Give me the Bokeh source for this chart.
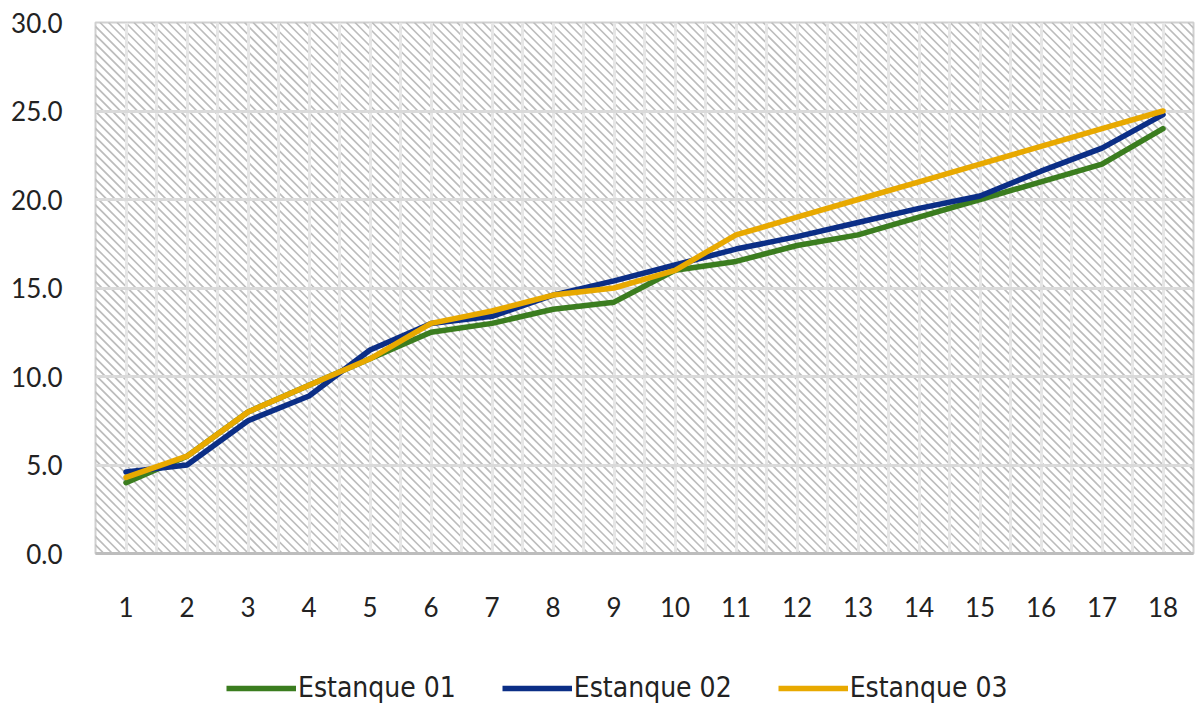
import numpy as np
from bokeh.plotting import figure
from bokeh.layouts import column
from bokeh.models import Range1d, FixedTicker, Legend, LegendItem, CustomJSTickFormatter
from bokeh.embed import file_html
from bokeh.resources import INLINE

days = list(range(1, 19))
tick_labels = [str(d) for d in days]
estanque_01 = [4.0, 5.5, 8.0, 9.5, 11.0, 12.5, 13.0, 13.8, 14.2, 16.0, 16.5, 17.4, 18.0, 19.0, 20.0, 21.0, 22.0, 24.0]
estanque_02 = [4.6, 5.0, 7.5, 8.9, 11.5, 13.0, 13.4, 14.6, 15.4, 16.3, 17.2, 17.9, 18.7, 19.5, 20.2, 21.6, 22.9, 24.8]
estanque_03 = [4.3, 5.5, 8.0, 9.5, 11.0, 13.0, 13.7, 14.6, 15.0, 16.0, 18.0, 19.0, 20.0, 21.0, 22.0, 23.0, 24.0, 25.0]
series_names = ["Estanque 01", "Estanque 02", "Estanque 03"]
colors = ["#3b7d1f", "#0b2e86", "#e8a900"]
y_ticks = [0, 5, 10, 15, 20, 25, 30]

FW, FH = 1098, 531
X0, X1, Y0, Y1 = 0.5, 18.5, 0, 30

p = figure(frame_width=FW, frame_height=FH, output_backend="svg", toolbar_location=None,
           x_range=Range1d(X0, X1), y_range=Range1d(Y0, Y1),
           min_border_left=95, min_border_right=2, min_border_top=22, min_border_bottom=90)
p.background_fill_color = "white"
p.border_fill_color = "white"
p.outline_line_color = "#d0d0d0"
p.outline_line_width = 2

# diagonal hatch of the plot area (decoration, 45 degrees on screen)
ux = (X1 - X0) / FW   # data units per pixel
uy = (Y1 - Y0) / FH
span = (Y1 - Y0) / uy * ux
starts = np.arange(X0 - span, X1 + 0.2, 8.5 * ux)
hatch = p.segment(x0=starts, y0=[Y1] * len(starts), x1=starts + span, y1=[Y0] * len(starts),
                  line_color="#bcbcbc", line_width=1.6)
hatch.level = "image"

lines = []
for ys, c in zip([estanque_01, estanque_02, estanque_03], colors):
    r = p.line(days, ys, line_color=c, line_width=5.5, line_join="round", line_cap="round")
    lines.append(r)

# axes
p.xaxis.ticker = FixedTicker(ticks=days)
p.xaxis.major_label_overrides = {d: t for d, t in zip(days, tick_labels)}
p.yaxis.ticker = FixedTicker(ticks=y_ticks)
p.yaxis.formatter = CustomJSTickFormatter(code="return tick.toFixed(1);")
for ax in (p.xaxis, p.yaxis):
    ax.major_tick_line_color = None
    ax.minor_tick_line_color = None
    ax.major_label_text_font = "Lato"
    ax.major_label_text_font_size = "26px"
    ax.major_label_text_color = "#222222"
p.yaxis.axis_line_color = None
p.xaxis.axis_line_color = "#bdbdbd"
p.xaxis.axis_line_width = 3
p.yaxis.major_label_standoff = 27
p.xaxis.major_label_standoff = 37

p.xgrid.ticker = FixedTicker(ticks=[0.5 + 0.5 * i for i in range(37)])
p.xgrid.grid_line_color = "#e6e6e6"
p.xgrid.grid_line_width = 3
p.ygrid.grid_line_color = "#dadada"
p.ygrid.grid_line_width = 3

# legend in its own strip below
lf = figure(width=1195, height=61, output_backend="svg", toolbar_location=None,
            x_axis_type=None, y_axis_type=None, x_range=Range1d(X0, X1), y_range=Range1d(100, 101),
            min_border=0)
lf.outline_line_color = None
lf.background_fill_color = "white"
lf.border_fill_color = "white"
lrs = []
for ys, c in zip([estanque_01, estanque_02, estanque_03], colors):
    lrs.append(lf.line(days, ys, line_color=c, line_width=5.5))
legend = Legend(items=[LegendItem(label=n, renderers=[r]) for n, r in zip(series_names, lrs)],
                orientation="horizontal", location=(131, 0),
                label_text_font="DejaVu Sans Condensed", label_text_font_size="28px",
                label_text_color="#222222", glyph_width=70, label_standoff=2, spacing=46,
                border_line_color=None, background_fill_alpha=0, margin=0, padding=4)
lf.add_layout(legend)

layout = column(p, lf, spacing=0)
open("out.html", "w").write(file_html(layout, INLINE))
